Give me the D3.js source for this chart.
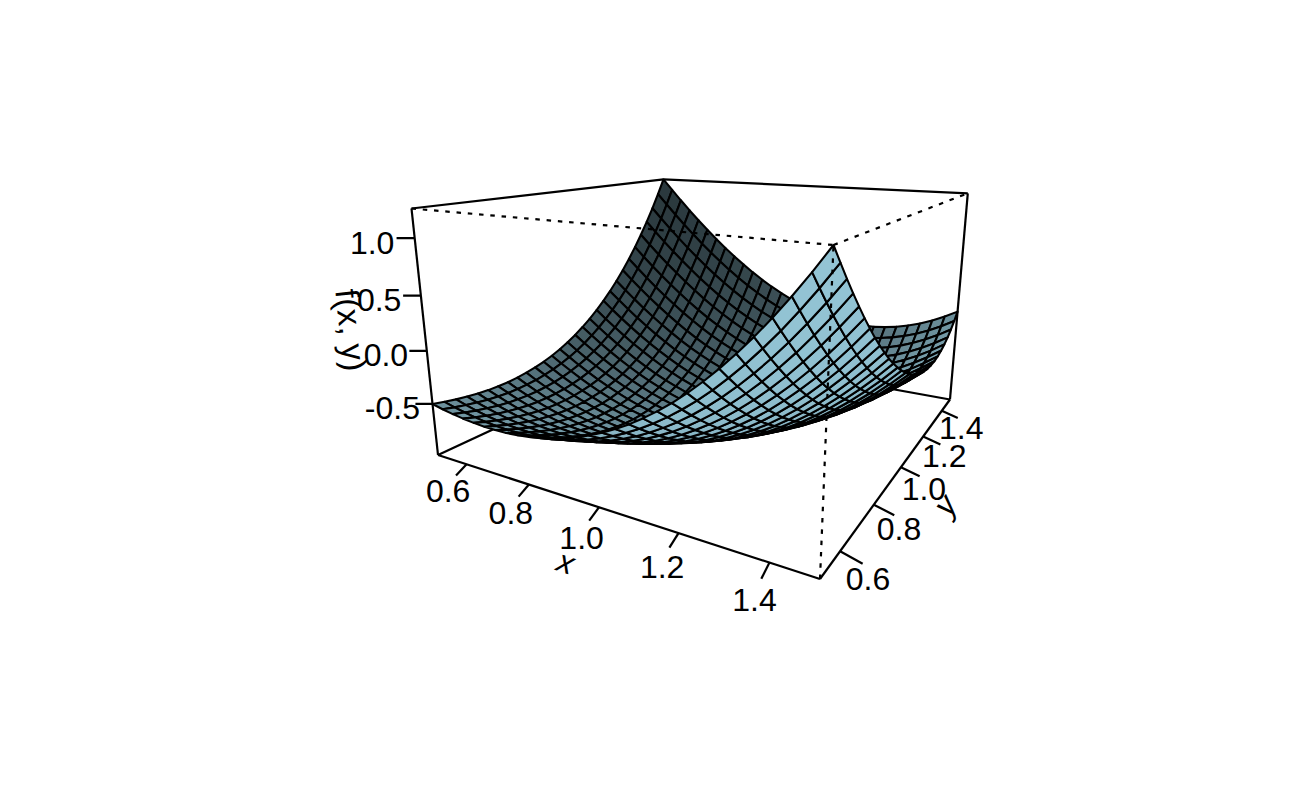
<!DOCTYPE html>
<html><head><meta charset="utf-8">
<style>html,body{margin:0;background:#fff}svg{display:block}text{font-family:"Liberation Sans",Arial,sans-serif;fill:#000}</style>
<script src="https://cdn.jsdelivr.net/npm/d3@7"></script></head><body><div id="c"></div>
<script>
const gridN = 30;
const xTicks = [0.6,0.8,1.0,1.2,1.4];
const yTicks = [0.6,0.8,1.0,1.2,1.4];
const zTicks = [-0.5,0.0,0.5,1.0];
const xTitle = "x", yTitle = "y", zTitle = "f(x, y)";
const domainX = [0.5,1.5], domainY = [0.5,1.5], domainZ = [-1,1.25];
// surface heights read per grid row, from the diagonal outward (surface is symmetric in x and y)
const zRows = [
[-.5,-.524,-.544,-.56,-.572,-.58,-.582,-.58,-.572,-.558,-.539,-.514,-.483,-.445,-.4,-.348,-.289,-.223,-.148,-.066,.024,.123,.231,.348,.474,.609,.754,.909,1.074,1.25],
[-.552,-.575,-.595,-.611,-.621,-.628,-.629,-.624,-.615,-.599,-.577,-.549,-.515,-.474,-.426,-.37,-.307,-.237,-.158,-.071,.024,.128,.242,.364,.496,.637,.789,.951,1.123],
[-.603,-.626,-.645,-.66,-.669,-.674,-.673,-.667,-.655,-.637,-.612,-.582,-.544,-.499,-.448,-.388,-.321,-.246,-.163,-.071,.03,.139,.258,.386,.524,.672,.83,.999],
[-.653,-.675,-.694,-.707,-.715,-.718,-.715,-.707,-.692,-.671,-.644,-.61,-.569,-.521,-.465,-.402,-.33,-.25,-.162,-.065,.041,.156,.281,.415,.56,.714,.879],
[-.702,-.723,-.74,-.752,-.758,-.759,-.754,-.743,-.726,-.702,-.672,-.634,-.59,-.538,-.478,-.41,-.333,-.249,-.155,-.053,.059,.18,.311,.452,.603,.764],
[-.748,-.769,-.784,-.794,-.798,-.797,-.79,-.776,-.756,-.729,-.695,-.654,-.606,-.549,-.485,-.412,-.331,-.241,-.142,-.034,.083,.211,.348,.495,.653],
[-.793,-.812,-.825,-.833,-.835,-.832,-.822,-.805,-.782,-.751,-.714,-.669,-.616,-.555,-.486,-.408,-.322,-.227,-.122,-.008,.115,.249,.393,.547],
[-.834,-.851,-.863,-.868,-.868,-.862,-.849,-.829,-.802,-.768,-.727,-.678,-.62,-.555,-.481,-.398,-.306,-.205,-.095,.025,.155,.296,.446],
[-.872,-.887,-.896,-.9,-.897,-.887,-.871,-.848,-.818,-.78,-.734,-.68,-.618,-.548,-.469,-.38,-.283,-.176,-.06,.067,.204,.351],
[-.906,-.919,-.926,-.926,-.92,-.908,-.888,-.861,-.827,-.785,-.735,-.676,-.609,-.534,-.449,-.355,-.252,-.139,-.016,.117,.261],
[-.935,-.946,-.95,-.948,-.939,-.922,-.899,-.868,-.83,-.783,-.728,-.665,-.593,-.512,-.422,-.322,-.213,-.093,.036,.176],
[-.96,-.968,-.969,-.963,-.951,-.931,-.904,-.869,-.826,-.775,-.715,-.646,-.569,-.482,-.386,-.28,-.164,-.038,.098],
[-.979,-.984,-.982,-.973,-.957,-.933,-.902,-.862,-.815,-.758,-.693,-.62,-.536,-.444,-.342,-.229,-.107,.026],
[-.992,-.994,-.988,-.976,-.956,-.928,-.892,-.848,-.795,-.734,-.664,-.584,-.495,-.396,-.288,-.169,-.039],
[-.999,-.997,-.988,-.972,-.947,-.915,-.875,-.825,-.768,-.701,-.625,-.54,-.445,-.339,-.224,-.098],
[-.999,-.994,-.981,-.96,-.931,-.894,-.849,-.794,-.731,-.659,-.577,-.486,-.384,-.272,-.15],
[-.992,-.982,-.965,-.94,-.906,-.864,-.814,-.754,-.686,-.607,-.519,-.421,-.313,-.194],
[-.976,-.963,-.941,-.911,-.873,-.826,-.77,-.705,-.63,-.546,-.451,-.346,-.231],
[-.953,-.935,-.908,-.874,-.83,-.778,-.716,-.645,-.564,-.473,-.372,-.26],
[-.92,-.898,-.866,-.826,-.777,-.719,-.652,-.575,-.487,-.39,-.282],
[-.878,-.851,-.814,-.769,-.714,-.651,-.577,-.493,-.399,-.295],
[-.827,-.794,-.752,-.701,-.641,-.571,-.49,-.4,-.299],
[-.765,-.726,-.679,-.622,-.556,-.479,-.392,-.295],
[-.692,-.648,-.595,-.532,-.459,-.375,-.282],
[-.608,-.558,-.499,-.429,-.349,-.259],
[-.512,-.456,-.39,-.314,-.227],
[-.404,-.341,-.269,-.186],
[-.282,-.214,-.134],
[-.148,-.072],
[0]
];
const surfaceFill = [153,204,221];

const zAt = (i,j) => i>=j ? zRows[j][i-j] : zRows[i][j-i];
const W=1300,H=800;
const svg=d3.select("#c").append("svg").attr("width",W).attr("height",H);
const gridX = d3.range(gridN).map(d3.scaleLinear().domain([0,gridN-1]).range(domainX));
const gridY = gridX.slice();
const uS=d3.scaleLinear().domain(domainX).range([0,1]);
const vS=d3.scaleLinear().domain(domainY).range([0,1]);
const wS=d3.scaleLinear().domain(domainZ).range([0,1]);
// viewing transform of the box (unit cube -> page)
function proj(u,v,w){
  const D=1-.27138*u+.4732*v-.0861*w;
  return [(438+159.47*u+544.24*v-61.93*w)/D,(455-33.13*u+58.25*v-264.45*w)/D];
}
const P=(x,y,z)=>proj(uS(x),vS(y),wS(z));
const line=d3.line();
const L=[-.7071,.7071,0], expand=.6, shade=.5;
function facetColor(i,j){
  const sc=(a,b,c)=>[(a-1)/.5,(b-1)/.5,expand*(c-.125)/1.125];
  const a=sc(gridX[i],gridY[j],zAt(i,j)),b=sc(gridX[i+1],gridY[j],zAt(i+1,j)),
        c=sc(gridX[i+1],gridY[j+1],zAt(i+1,j+1)),d=sc(gridX[i],gridY[j+1],zAt(i,j+1));
  const p=[b[0]-d[0],b[1]-d[1],b[2]-d[2]],q=[c[0]-a[0],c[1]-a[1],c[2]-a[2]];
  let n=[p[1]*q[2]-p[2]*q[1],p[2]*q[0]-p[0]*q[2],p[0]*q[1]-p[1]*q[0]];
  const m=Math.hypot(...n)||1;
  const val=(n[0]*L[0]+n[1]*L[1]+n[2]*L[2])/m;
  const s=Math.pow(.5*(val+1),shade);
  return d3.rgb(surfaceFill[0]*s,surfaceFill[1]*s,surfaceFill[2]*s).formatHex();
}
const zlo=domainZ[0],zhi=domainZ[1],xl=domainX[0],xh=domainX[1],yl=domainY[0],yh=domainY[1];
const edge=(a,b,dash)=>svg.append("path").attr("d",line([P(...a),P(...b)])).attr("fill","none").attr("stroke","#000").attr("stroke-width",2.2).attr("stroke-dasharray",dash||null);
// back box
[[[xl,yh,zlo],[xl,yh,zhi]],[[xl,yl,zlo],[xl,yh,zlo]],[[xl,yh,zlo],[xh,yh,zlo]],
 [[xl,yl,zhi],[xl,yh,zhi]],[[xl,yh,zhi],[xh,yh,zhi]]].forEach(e=>edge(e[0],e[1]));
// surface, back to front
const g=svg.append("g");
const facets=[];
for(let i=0;i<gridN-1;i++)for(let j=gridN-2;j>=0;j--)facets.push([i,j]);
g.selectAll("path").data(facets).join("path")
 .attr("d",([i,j])=>line([P(gridX[i],gridY[j],zAt(i,j)),P(gridX[i+1],gridY[j],zAt(i+1,j)),P(gridX[i+1],gridY[j+1],zAt(i+1,j+1)),P(gridX[i],gridY[j+1],zAt(i,j+1))])+"Z")
 .attr("fill",([i,j])=>facetColor(i,j)).attr("stroke","#000").attr("stroke-width",2.1).attr("stroke-linejoin","round");
// front box
[[[xl,yl,zlo],[xh,yl,zlo]],[[xh,yl,zlo],[xh,yh,zlo]],[[xl,yl,zlo],[xl,yl,zhi]],[[xh,yh,zlo],[xh,yh,zhi]]].forEach(e=>edge(e[0],e[1]));
[[[xl,yl,zhi],[xh,yl,zhi]],[[xh,yl,zhi],[xh,yh,zhi]],[[xh,yl,zlo],[xh,yl,zhi]]].forEach(e=>edge(e[0],e[1],"4.5 6.8"));
// axes
const FS=32;
const fmt=t=>d3.format(".1f")(t).replace("\u2212","-");
function tick(a,b){svg.append("path").attr("d",line([a,b])).attr("fill","none").attr("stroke","#000").attr("stroke-width",2.2);}
function lab(p,t){return svg.append("text").attr("text-anchor","middle").attr("dominant-baseline","central").attr("font-size",FS).attr("x",p[0]).attr("y",p[1]).text(t);}
xTicks.forEach(t=>{const u=uS(t);
  tick(proj(u,0,0),proj(u,-.033,-.024));
  lab(proj(u,-.059,-.07),fmt(t));});
yTicks.forEach(t=>{const v=vS(t);
  tick(proj(1,v,0),proj(1.045,v,-.02));
  lab(proj(1.057,v,-.068),fmt(t));});
zTicks.forEach(t=>{const w=wS(t);
  tick(proj(0,0,w),proj(-.036,-.02,w));
  lab(proj(-.085,-.048,w-.017),fmt(t));});
svg.append("text").attr("text-anchor","middle").attr("dominant-baseline","central").attr("font-size",FS).attr("font-style","italic").attr("transform","translate(566,562) rotate(18)").text(xTitle);
svg.append("text").attr("text-anchor","middle").attr("dominant-baseline","central").attr("font-size",FS).attr("font-style","italic").attr("transform","translate(945,505) rotate(-54)").text(yTitle);
svg.append("text").attr("text-anchor","middle").attr("dominant-baseline","central").attr("font-size",33).attr("transform","translate(351,330) rotate(84)").text(zTitle);
</script></body></html>
